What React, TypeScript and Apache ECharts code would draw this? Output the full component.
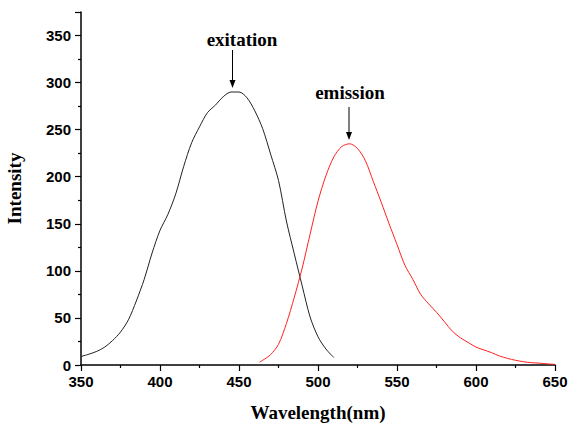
import React, { useEffect, useRef } from "react";
import * as echarts from "echarts";

const excitationWl = [350, 355, 360, 365, 370, 375, 380, 385, 390, 395, 400, 405, 410, 415, 420, 425, 430, 435, 440, 445, 450, 455, 460, 465, 470, 475, 480, 485, 490, 495, 500, 505, 510];
const excitationVal = [9, 11.5, 14.5, 19, 26, 35, 48, 68, 91, 119, 143, 160, 182, 211, 236, 253, 268, 276, 285, 290, 290, 284, 270, 251, 224, 196, 153, 118, 84, 51, 30, 17, 8];

const emissionWl = [463, 465, 470, 475, 480, 485, 490, 495, 500, 505, 510, 515, 520, 525, 530, 535, 540, 545, 550, 555, 560, 565, 570, 575, 580, 585, 590, 595, 600, 605, 610, 615, 620, 625, 630, 635, 640, 645, 650];
const emissionVal = [3, 5, 11, 22, 44, 72, 103, 139, 174, 201, 221, 232, 235, 230, 217, 195, 173, 150, 128, 106, 91, 75, 65, 56, 46, 36, 29, 24, 19, 16, 13, 9.5, 7, 5, 3.5, 2.5, 2, 1.2, 0.7];

const xTitle = "Wavelength(nm)";
const yTitle = "Intensity";
const labelExcitation = "exitation";
const labelEmission = "emission";

export default function App() {
  const ref = useRef<HTMLDivElement>(null);
  useEffect(() => {
    if (!ref.current) return;
    const chart = echarts.init(ref.current, null, { renderer: "svg" });
    const tickFont = { fontFamily: "Liberation Sans", fontWeight: "bold" as const, fontSize: 15, color: "#000" };
    const titleFont = { fontFamily: "Liberation Serif", fontWeight: "bold" as const, fontSize: 19, color: "#000" };
    chart.setOption({
      animation: false,
      backgroundColor: "#fff",
      grid: { left: 81, right: 13, top: 12, bottom: 58, containLabel: false, outerBoundsMode: "none" },
      xAxis: {
        type: "value",
        min: 350,
        max: 650,
        interval: 50,
        name: xTitle,
        nameLocation: "middle",
        nameGap: 38,
        nameTextStyle: titleFont,
        axisLine: { lineStyle: { color: "#000", width: 1.5 } },
        axisTick: { inside: false, length: 6, lineStyle: { color: "#000", width: 1.2 } },
        minorTick: { show: true, splitNumber: 2, length: 3, lineStyle: { color: "#000", width: 1.2 } },
        axisLabel: { ...tickFont, margin: 9 },
        splitLine: { show: false },
      },
      yAxis: {
        type: "value",
        min: 0,
        max: 375,
        interval: 50,
        name: yTitle,
        nameLocation: "middle",
        nameGap: 57,
        nameRotate: 90,
        nameTextStyle: titleFont,
        axisLine: { show: true, lineStyle: { color: "#000", width: 1.5 } },
        axisTick: { show: true, inside: false, length: 6, lineStyle: { color: "#000", width: 1.2 } },
        minorTick: { show: true, splitNumber: 2, length: 3, lineStyle: { color: "#000", width: 1.2 } },
        axisLabel: { ...tickFont, margin: 10, showMaxLabel: false },
        splitLine: { show: false },
      },
      series: [
        {
          type: "line",
          name: labelExcitation,
          data: excitationWl.map((w, i) => [w, excitationVal[i]]),
          showSymbol: false,
          smooth: 0.3,
          lineStyle: { color: "#222", width: 1 },
        },
        {
          type: "line",
          name: labelEmission,
          data: emissionWl.map((w, i) => [w, emissionVal[i]]),
          showSymbol: false,
          smooth: 0.3,
          lineStyle: { color: "#ff2020", width: 1 },
        },
      ],
      graphic: [
        { type: "text", x: 242, y: 39, style: { text: labelExcitation, font: "bold 19px 'Liberation Serif'", fill: "#000", align: "center", verticalAlign: "middle" } },
        { type: "line", shape: { x1: 232.5, y1: 50, x2: 232.5, y2: 82 }, style: { stroke: "#000", lineWidth: 1 } },
        { type: "polygon", shape: { points: [[229.5, 80], [235.5, 80], [232.5, 88]] }, style: { fill: "#000" } },
        { type: "text", x: 350, y: 92, style: { text: labelEmission, font: "bold 19px 'Liberation Serif'", fill: "#000", align: "center", verticalAlign: "middle" } },
        { type: "line", shape: { x1: 349, y1: 107, x2: 349, y2: 134 }, style: { stroke: "#000", lineWidth: 1 } },
        { type: "polygon", shape: { points: [[346, 132], [352, 132], [349, 140]] }, style: { fill: "#000" } },
      ],
    });
    return () => chart.dispose();
  }, []);
  return <div ref={ref} style={{ width: 568, height: 423, position: "absolute", left: 0, top: 0 }} />;
}
